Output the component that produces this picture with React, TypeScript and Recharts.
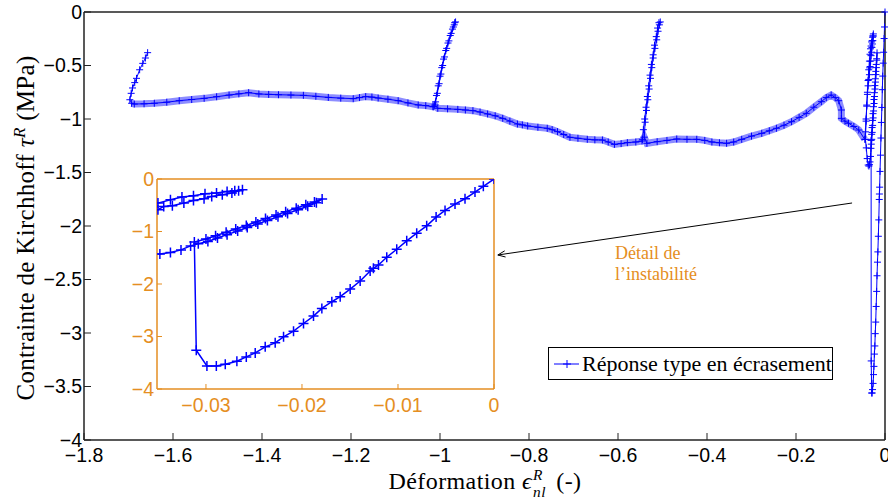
import React from 'react';
import { LineChart, Line, XAxis, YAxis, ReferenceLine } from 'recharts';

type P = [number, number];

// ---- data (deformation, stress) in loading order ----
const initialLoad: P[] = [
  [0, 0], [-0.00111, -0.14], [-0.00198, -0.248], [-0.00302, -0.376], [-0.00406, -0.478],
  [-0.0051, -0.599], [-0.00603, -0.726], [-0.00701, -0.892], [-0.00805, -1.032], [-0.00909, -1.178],
  [-0.01013, -1.338], [-0.01117, -1.49], [-0.01203, -1.637], [-0.01256, -1.701], [-0.0129, -1.752],
  [-0.01394, -1.943], [-0.01498, -2.096], [-0.01602, -2.242], [-0.01689, -2.338], [-0.01793, -2.465],
  [-0.0188, -2.611], [-0.01984, -2.752], [-0.02088, -2.898], [-0.02192, -3.006], [-0.02279, -3.121],
  [-0.02383, -3.197], [-0.02487, -3.312], [-0.0258, -3.389], [-0.02678, -3.471], [-0.02799, -3.529],
  [-0.02892, -3.561], [-0.0299, -3.561],
];
const instabilityDrop: P[] = [[-0.03101, -3.261], [-0.03121, -1.2]];
const loopAUnload: P[] = [
  [-0.03, -1.143], [-0.029, -1.08], [-0.0279, -1.013], [-0.0269, -0.95], [-0.0258, -0.885],
  [-0.0248, -0.818], [-0.0238, -0.754], [-0.0227, -0.688], [-0.0217, -0.624], [-0.0206, -0.555],
  [-0.0196, -0.49], [-0.0187, -0.437], [-0.0179, -0.382],
];
const loopAReload: P[] = [
  [-0.0185, -0.45], [-0.0194, -0.52], [-0.0204, -0.585], [-0.0215, -0.655], [-0.0225, -0.72],
  [-0.0236, -0.79], [-0.0246, -0.855], [-0.0257, -0.925], [-0.0267, -0.99], [-0.0278, -1.06],
  [-0.0288, -1.125], [-0.0298, -1.19], [-0.0308, -1.235], [-0.0316, -1.274],
];
const crushAfterDrop: P[] = [
  [-0.0326, -1.35], [-0.0337, -1.401], [-0.0348, -1.427], [-0.0362, -1.44], [-0.0378, -1.43],
  [-0.04, -1.37], [-0.042, -1.27], [-0.044, -1.19],
];
const loopBUnload: P[] = [
  [-0.0425, -1.02], [-0.041, -0.88], [-0.0395, -0.77], [-0.038, -0.69], [-0.0365, -0.63],
  [-0.035, -0.586], [-0.0344, -0.522], [-0.0335, -0.51], [-0.0323, -0.459], [-0.0313, -0.408],
  [-0.0302, -0.376], [-0.0294, -0.331], [-0.0283, -0.299], [-0.0273, -0.268], [-0.0266, -0.225],
  [-0.0262, -0.205],
];
const loopBReload: P[] = [
  [-0.027, -0.223], [-0.0278, -0.236], [-0.0289, -0.268], [-0.0301, -0.28], [-0.0313, -0.318],
  [-0.0325, -0.344], [-0.0337, -0.395], [-0.035, -0.459], [-0.0365, -0.54], [-0.038, -0.64],
  [-0.0395, -0.75], [-0.041, -0.87], [-0.0425, -1.0], [-0.044, -1.12], [-0.0455, -1.19],
];
const plateauRight: P[] = [
  [-0.059, -1.103], [-0.07, -1.07], [-0.082, -1.04], [-0.09, -1.02], [-0.098, -0.994],
  [-0.098, -0.916], [-0.104, -0.829], [-0.112, -0.8], [-0.121, -0.776], [-0.132, -0.8],
  [-0.143, -0.838], [-0.16, -0.89], [-0.177, -0.947], [-0.193, -0.985], [-0.21, -1.025],
  [-0.227, -1.058], [-0.244, -1.087], [-0.26, -1.11], [-0.277, -1.134], [-0.3, -1.16],
  [-0.322, -1.19], [-0.34, -1.215], [-0.356, -1.227], [-0.372, -1.222], [-0.389, -1.215],
  [-0.405, -1.2], [-0.423, -1.19], [-0.445, -1.19], [-0.468, -1.187], [-0.49, -1.2],
  [-0.512, -1.212], [-0.535, -1.227], [-0.541, -1.17],
];
const branch054: P[] = [
  [-0.539, -1.03], [-0.536, -0.92], [-0.533, -0.82], [-0.53, -0.72], [-0.527, -0.62],
  [-0.524, -0.52], [-0.521, -0.43], [-0.517, -0.34], [-0.513, -0.26], [-0.51, -0.18],
  [-0.507, -0.12], [-0.505, -0.093], [-0.508, -0.1], [-0.511, -0.15], [-0.514, -0.23],
  [-0.518, -0.31], [-0.521, -0.4], [-0.525, -0.49], [-0.528, -0.59], [-0.531, -0.69],
  [-0.534, -0.79], [-0.537, -0.89], [-0.54, -1.0], [-0.543, -1.1], [-0.545, -1.19],
];
const plateauMiddle: P[] = [
  [-0.546, -1.206], [-0.56, -1.215], [-0.579, -1.221], [-0.593, -1.23], [-0.608, -1.237],
  [-0.622, -1.215], [-0.635, -1.196], [-0.652, -1.195], [-0.669, -1.19], [-0.69, -1.18],
  [-0.708, -1.171], [-0.722, -1.145], [-0.736, -1.118], [-0.748, -1.1], [-0.759, -1.087],
  [-0.78, -1.077], [-0.803, -1.065], [-0.815, -1.055], [-0.826, -1.047], [-0.843, -1.02],
  [-0.859, -0.994], [-0.876, -0.97], [-0.893, -0.953], [-0.91, -0.935], [-0.926, -0.922],
  [-0.943, -0.916], [-0.96, -0.91], [-0.983, -0.905], [-1.005, -0.9], [-1.012, -0.87],
];
const branch101: P[] = [
  [-1.008, -0.78], [-1.004, -0.69], [-1.0, -0.6], [-0.996, -0.52], [-0.992, -0.44],
  [-0.987, -0.36], [-0.982, -0.29], [-0.977, -0.22], [-0.972, -0.16], [-0.968, -0.12],
  [-0.965, -0.093], [-0.967, -0.1], [-0.97, -0.14], [-0.975, -0.2], [-0.98, -0.27],
  [-0.985, -0.34], [-0.99, -0.42], [-0.994, -0.5], [-0.998, -0.58], [-1.002, -0.67],
  [-1.006, -0.76], [-1.01, -0.84], [-1.014, -0.885],
];
const plateauLeft: P[] = [
  [-1.016, -0.885], [-1.032, -0.875], [-1.049, -0.869], [-1.072, -0.85], [-1.094, -0.829],
  [-1.117, -0.815], [-1.139, -0.804], [-1.153, -0.795], [-1.167, -0.791], [-1.181, -0.8],
  [-1.195, -0.81], [-1.223, -0.805], [-1.251, -0.798], [-1.279, -0.788], [-1.307, -0.779],
  [-1.335, -0.776], [-1.363, -0.773], [-1.385, -0.77], [-1.407, -0.766], [-1.43, -0.754],
  [-1.452, -0.765], [-1.474, -0.776], [-1.502, -0.792], [-1.53, -0.807], [-1.558, -0.818],
  [-1.586, -0.829], [-1.614, -0.843], [-1.642, -0.853], [-1.665, -0.858], [-1.687, -0.86],
  [-1.693, -0.853],
];
const finalUnload: P[] = [
  [-1.697, -0.82], [-1.694, -0.76], [-1.691, -0.71], [-1.686, -0.66], [-1.682, -0.62],
  [-1.675, -0.54], [-1.668, -0.48], [-1.662, -0.43], [-1.657, -0.38],
];

const mainXTicks = [-1.8, -1.6, -1.4, -1.2, -1, -0.8, -0.6, -0.4, -0.2, 0];
const mainYTicks = [0, -0.5, -1, -1.5, -2, -2.5, -3, -3.5, -4];
const insetXTicks = [-0.03, -0.02, -0.01, 0];
const insetYTicks = [0, -1, -2, -3, -4];
const mainXDomain: [number, number] = [-1.8, 0];
const mainYDomain: [number, number] = [-4, 0];
const insetXDomain: [number, number] = [-0.0351, 0];
const insetYDomain: [number, number] = [-4, 0];

const seriesName = 'Réponse type en écrasement';
const annotationLines = ['Détail de', 'l\u2019instabilité'];
const arrowFrom = { x: -0.074, y: -1.785 };
const arrowTo = { x: -0.87, y: -2.271 };

// ---- build rows ----
const toRows = (...segs: P[][]) => segs.flat().map(([x, y]) => ({ x, y }));
const responseRows = toRows(
  initialLoad, instabilityDrop, loopAUnload, loopAReload, crushAfterDrop, loopBUnload, loopBReload,
  plateauRight, branch054, plateauMiddle, branch101, plateauLeft, finalUnload,
);
const bandRows = toRows([loopBReload[loopBReload.length - 1]], plateauRight, plateauMiddle, plateauLeft);

const BLUE = '#0000ff';
const ORANGE = '#e58e22';
const AXIS = '#222';
const SANS = '"Liberation Sans", Arial, Helvetica, sans-serif';
const SERIF = '"Liberation Serif", "Times New Roman", serif';

const fmt = (v: number) => (v === 0 ? '0' : String(v).replace('-', '\u2212'));

const makeCross = (h: number, w: number) => (props: any) => {
  const { cx, cy, index } = props;
  if (typeof cx !== 'number' || typeof cy !== 'number' || isNaN(cx) || isNaN(cy)) {
    return <g key={`n${index}`} />;
  }
  return (
    <path
      key={`c${index}`}
      d={`M${cx - h},${cy}H${cx + h}M${cx},${cy - h}V${cy + h}`}
      stroke={BLUE}
      strokeWidth={w}
      fill="none"
    />
  );
};

const arrowShape = (props: any) => {
  const { x1, y1, x2, y2 } = props;
  const a = Math.atan2(y2 - y1, x2 - x1);
  const L = 8;
  const s = 0.4;
  const ax = x2 - L * Math.cos(a - s);
  const ay = y2 - L * Math.sin(a - s);
  const bx = x2 - L * Math.cos(a + s);
  const by = y2 - L * Math.sin(a + s);
  return (
    <g>
      <line x1={x1} y1={y1} x2={x2} y2={y2} stroke="#000" strokeWidth={1} />
      <path d={`M${ax},${ay}L${x2},${y2}L${bx},${by}`} stroke="#000" strokeWidth={1} fill="none" />
    </g>
  );
};

const tickStyle = { fill: '#000', fontSize: 19.5, fontFamily: SANS };
const insetTickStyle = { fill: ORANGE, fontSize: 19.5, fontFamily: SANS };

export default function App() {
  return (
    <div style={{ position: 'absolute', left: 0, top: 0, width: 888, height: 497, background: '#fff' }}>
      <div style={{ position: 'absolute', left: 0, top: 0 }}>
        <LineChart width={888} height={497} margin={{ top: 2, right: 0, bottom: 0, left: 0 }}>
          <XAxis
            xAxisId="b" type="number" dataKey="x" domain={mainXDomain} ticks={mainXTicks} interval={0}
            orientation="bottom" height={57} tickSize={-7} tickMargin={15} tickFormatter={fmt}
            tick={tickStyle} axisLine={{ stroke: AXIS, strokeWidth: 1.5 }} tickLine={{ stroke: AXIS }}
          />
          <XAxis
            xAxisId="t" type="number" dataKey="x" domain={mainXDomain} ticks={mainXTicks} interval={0}
            orientation="top" height={10} tickSize={-7} tick={false}
            axisLine={{ stroke: AXIS, strokeWidth: 1.5 }} tickLine={{ stroke: AXIS }}
          />
          <YAxis
            yAxisId="l" type="number" domain={mainYDomain} ticks={mainYTicks} interval={0}
            width={84} tickSize={-7} tickMargin={9} tickFormatter={fmt} tick={tickStyle}
            axisLine={{ stroke: AXIS, strokeWidth: 1.5 }} tickLine={{ stroke: AXIS }}
          />
          <YAxis
            yAxisId="r" orientation="right" type="number" domain={mainYDomain} ticks={mainYTicks} interval={0}
            width={3} tickSize={-7} tick={false}
            axisLine={{ stroke: AXIS, strokeWidth: 1.5 }} tickLine={{ stroke: AXIS }}
          />
          <Line
            xAxisId="b" yAxisId="l" data={bandRows} dataKey="y" type="linear"
            stroke="#2f2fff" strokeOpacity={0.55} strokeWidth={7} dot={false} activeDot={false}
            isAnimationActive={false} legendType="none"
          />
          <Line
            xAxisId="b" yAxisId="l" data={responseRows} dataKey="y" name={seriesName} type="linear"
            stroke={BLUE} strokeWidth={1} dot={makeCross(3.5, 1)} activeDot={false}
            isAnimationActive={false}
          />
          <ReferenceLine xAxisId="b" yAxisId="l" segment={[arrowFrom, arrowTo]} shape={arrowShape} />
        </LineChart>
      </div>

      <div style={{ position: 'absolute', left: 100, top: 160 }}>
        <LineChart width={400} height={255} margin={{ top: 0, right: 0, bottom: 0, left: 0 }}>
          <XAxis
            xAxisId="b" type="number" dataKey="x" domain={insetXDomain} allowDataOverflow ticks={insetXTicks}
            interval={0} orientation="bottom" height={26} tickSize={-5} tickMargin={14} tickFormatter={fmt}
            tick={insetTickStyle} axisLine={{ stroke: ORANGE, strokeWidth: 1.5 }} tickLine={{ stroke: ORANGE }}
          />
          <XAxis
            xAxisId="t" type="number" dataKey="x" domain={insetXDomain} allowDataOverflow ticks={insetXTicks}
            interval={0} orientation="top" height={19} tickSize={-5} tick={false}
            axisLine={{ stroke: ORANGE, strokeWidth: 1.5 }} tickLine={{ stroke: ORANGE }}
          />
          <YAxis
            yAxisId="l" type="number" domain={insetYDomain} allowDataOverflow ticks={insetYTicks} interval={0}
            width={57} tickSize={-5} tickMargin={8} tickFormatter={fmt} tick={insetTickStyle}
            axisLine={{ stroke: ORANGE, strokeWidth: 1.5 }} tickLine={{ stroke: ORANGE }}
          />
          <YAxis
            yAxisId="r" orientation="right" type="number" domain={insetYDomain} allowDataOverflow
            ticks={insetYTicks} interval={0} width={6} tickSize={-5} tick={false}
            axisLine={{ stroke: ORANGE, strokeWidth: 1.5 }} tickLine={{ stroke: ORANGE }}
          />
          <Line
            xAxisId="b" yAxisId="l" data={responseRows} dataKey="y" name={seriesName} type="linear"
            stroke={BLUE} strokeWidth={1.5} dot={makeCross(5, 1.5)} activeDot={false}
            isAnimationActive={false}
          />
        </LineChart>
      </div>

      {/* axis titles */}
      <div
        style={{
          position: 'absolute', left: 235, top: 465, width: 500, height: 32, textAlign: 'center',
          fontFamily: SERIF, fontSize: 24, color: '#000', whiteSpace: 'nowrap', lineHeight: '32px',
          letterSpacing: 0.4,
        }}
      >
        Déformation <i>{'\u03f5'}</i>
        <span
          style={{
            display: 'inline-block', verticalAlign: 'middle', fontSize: '0.64em', lineHeight: '1.15',
            fontStyle: 'italic', textAlign: 'left', marginLeft: 1, marginRight: 4,
          }}
        >
          <span style={{ display: 'block' }}>R</span>
          <span style={{ display: 'block' }}>nl</span>
        </span>{' '}
        (-)
      </div>
      <div
        style={{
          position: 'absolute', left: 26 - 250, top: 228 - 14, width: 500, height: 28, textAlign: 'center',
          fontFamily: SERIF, fontSize: 25, color: '#000', whiteSpace: 'nowrap', lineHeight: '28px',
          letterSpacing: 0.3, transform: 'rotate(-90deg)', transformOrigin: '50% 50%',
        }}
      >
        Contrainte de Kirchhoff <i>{'\u03c4'}</i>
        <sup style={{ fontSize: '0.68em', fontStyle: 'italic', lineHeight: 0 }}>R</sup> (MPa)
      </div>

      {/* legend */}
      <div
        style={{
          position: 'absolute', left: 548, top: 347, width: 285, height: 33, boxSizing: 'border-box',
          border: '1px solid #000', background: '#fff', display: 'flex', alignItems: 'center',
        }}
      >
        <svg width={30} height={14} style={{ marginLeft: 3 }}>
          <line x1={2} y1={7} x2={27} y2={7} stroke={BLUE} strokeWidth={1} />
          <path d="M11,7H19M15,3V11" stroke={BLUE} strokeWidth={1} />
        </svg>
        <span style={{ fontFamily: SERIF, fontSize: 22, color: '#000', marginLeft: 0, whiteSpace: 'nowrap' }}>
          {seriesName}
        </span>
      </div>

      {/* annotation */}
      <div
        style={{
          position: 'absolute', left: 615, top: 243, fontFamily: SERIF, fontSize: 18, lineHeight: '21px',
          color: ORANGE, whiteSpace: 'nowrap',
        }}
      >
        {annotationLines.map((t) => (
          <div key={t}>{t}</div>
        ))}
      </div>
    </div>
  );
}
